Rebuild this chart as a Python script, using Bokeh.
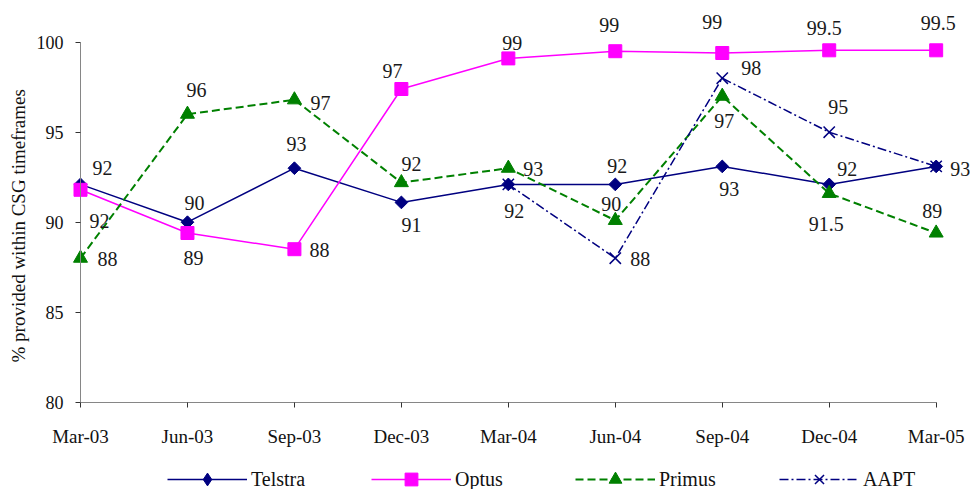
import math
from bokeh.plotting import figure
from bokeh.models import Range1d, FixedTicker, Legend, LegendItem, ColumnDataSource, Label
from bokeh.embed import file_html
from bokeh.resources import INLINE
from bokeh.core.properties import value

nan = float("nan")

# ---- data ----
quarters = ["Mar-03", "Jun-03", "Sep-03", "Dec-03", "Mar-04", "Jun-04", "Sep-04", "Dec-04", "Mar-05"]
telstra = [92.1, 90.0, 93.0, 91.1, 92.1, 92.1, 93.1, 92.1, 93.1]
optus = [91.8, 89.4, 88.5, 97.4, 99.1, 99.5, 99.4, 99.55, 99.55]
primus = [88.0, 96.0, 96.8, 92.2, 93.0, 90.1, 97.0, 91.6, 89.4]
aapt = [nan, nan, nan, nan, 92.1, 88.0, 98.0, 95.0, 93.1]

telstra_labels = ["92", "90", "93", "91", "92", "92", "93", "92", "93"]
optus_labels = ["92", "89", "88", "97", "99", "99", "99", "99.5", "99.5"]
primus_labels = ["88", "96", "97", "92", "93", "90", "97", "91.5", "89"]
aapt_labels = ["", "", "", "", "", "88", "98", "95", ""]

y_ticks = [80, 85, 90, 95, 100]
y_title = "% provided within CSG timeframes"

# label offsets in screen pixels (style, not data)
telstra_dx = [22, 7, 2, 10, 6, 2, 7, 18, 24]
telstra_dy = [-16, -19, -24, 23, 27, -18, 23, -15, 3]
optus_dx = [19, 6, 25, -9, 4, -6, -10, -5, 2]
optus_dy = [31, 25, 1, -18, -15, -26, -31, -22, -27]
primus_dx = [27, 9, 26, 10, 25, -4, 2, -3, -4]
primus_dy = [1, -24, 3, -19, 1, -16, 25, 31, -22]
aapt_dx = [0, 0, 0, 0, 0, 25, 29, 9, 0]
aapt_dy = [0, 0, 0, 0, 0, 1, -10, -25, 0]

FONT = "Liberation Serif"
xs = list(range(len(quarters)))

p = figure(width=970, height=489,
           x_range=Range1d(-0.748, 8.321), y_range=Range1d(75.15, 102.317),
           output_backend="svg", toolbar_location=None,
           min_border_left=0, min_border_right=0, min_border_top=0, min_border_bottom=0)
p.outline_line_color = None
p.xgrid.visible = False
p.ygrid.visible = False
p.background_fill_color = "white"

AX = "#868686"
TK = "#333333"

xa = p.xaxis[0]
xa.fixed_location = 80
xa.bounds = (0, len(quarters) - 1)
xa.ticker = FixedTicker(ticks=xs)
xa.major_label_overrides = {i: q for i, q in enumerate(quarters)}
xa.minor_tick_line_color = None
xa.major_tick_in = 0
xa.major_tick_out = 5
xa.axis_line_color = AX
xa.major_tick_line_color = TK
xa.major_label_standoff = 19
xa.major_label_text_font = FONT
xa.major_label_text_font_size = "19px"
xa.major_label_text_color = "#111111"

ya = p.yaxis[0]
ya.fixed_location = 0
ya.bounds = (80, 100)
ya.ticker = FixedTicker(ticks=y_ticks)
ya.minor_tick_line_color = None
ya.major_tick_in = 0
ya.major_tick_out = 5
ya.axis_line_color = AX
ya.major_tick_line_color = TK
ya.major_label_standoff = 12
ya.major_label_text_font = FONT
ya.major_label_text_font_size = "18px"
ya.major_label_text_color = "#111111"

p.add_layout(Label(x=-0.58, y=89.8, text=y_title, angle=math.pi / 2,
                   text_align="center", text_baseline="middle",
                   text_font=FONT, text_font_size="19px", text_color="#111111"))

series = [
    ("Telstra", telstra, telstra_labels, telstra_dx, telstra_dy,
     dict(line_color="#000080", line_width=1.5),
     dict(marker="square", angle=45, angle_units="deg", size=9, fill_color="#000080", line_color="#000080")),
    ("Optus", optus, optus_labels, optus_dx, optus_dy,
     dict(line_color="#FF00FF", line_width=1.5),
     dict(marker="square", size=13, fill_color="#FF00FF", line_color="#FF00FF")),
    ("Primus", primus, primus_labels, primus_dx, primus_dy,
     dict(line_color="#008000", line_width=2, line_dash="8 4"),
     dict(marker="triangle", size=14, fill_color="#008000", line_color="#008000")),
    ("AAPT", aapt, aapt_labels, aapt_dx, aapt_dy,
     dict(line_color="#000080", line_width=1.5, line_dash="9 3 2 3"),
     dict(marker="x", size=16, line_color="#000080", line_width=1.5)),
]

items = []
label_sources = []
for name, vals, labs, dx, dy, lstyle, mstyle in series:
    src = ColumnDataSource(dict(x=xs, y=vals))
    lr = p.line("x", "y", source=src, **lstyle)
    sr = p.scatter("x", "y", source=src, **mstyle)
    if name == "Telstra":
        # legend swatch: legend markers ignore angle, so use a diamond there
        leg_r = p.scatter("x", "y", source=src, marker="diamond", size=14,
                          fill_color="#000080", line_color="#000080", visible=False)
        items.append(LegendItem(label=name, renderers=[lr, leg_r]))
    else:
        items.append(LegendItem(label=name, renderers=[lr, sr]))
    keep = [i for i in xs if labs[i] != ""]
    label_sources.append(ColumnDataSource(dict(
        x=[xs[i] for i in keep], y=[vals[i] for i in keep],
        t=[labs[i] for i in keep], dx=[dx[i] for i in keep], dy=[dy[i] for i in keep])))

for ls in label_sources:
    p.text("x", "y", text="t", x_offset="dx", y_offset="dy", source=ls,
           text_align="center", text_baseline="middle",
           text_font=value(FONT), text_font_size="20px", text_color="#1a1a1a")

legend = Legend(items=items, orientation="horizontal", location=(167, -6),
                glyph_width=80, glyph_height=32, label_standoff=4, spacing=62,
                label_width=58, padding=0, margin=0,
                border_line_color=None, background_fill_alpha=0,
                label_text_font=FONT, label_text_font_size="20px",
                label_text_color="#111111")
p.add_layout(legend)

open("out.html", "w").write(file_html(p, INLINE))
